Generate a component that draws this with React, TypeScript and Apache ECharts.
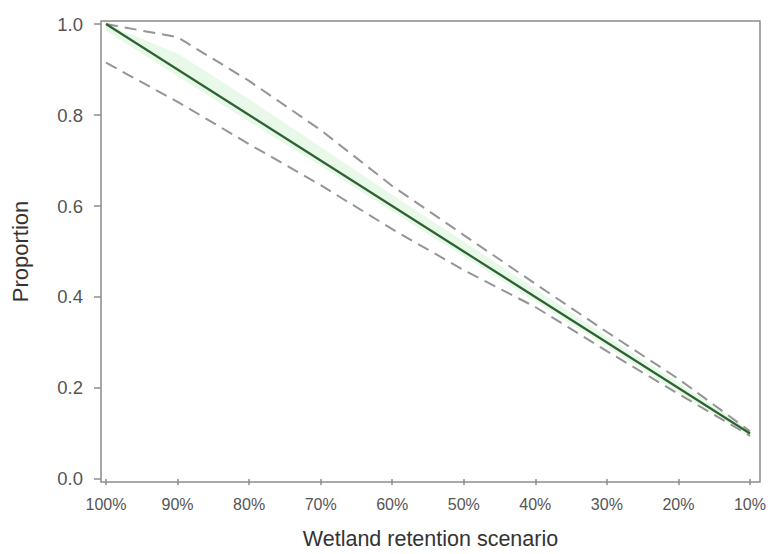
import React, { useEffect, useRef } from "react";
import * as echarts from "echarts";

const scenarios = [100, 90, 80, 70, 60, 50, 40, 30, 20, 10];
const proportion = [1.0, 0.9, 0.8, 0.7, 0.6, 0.5, 0.4, 0.3, 0.2, 0.1];
const upperBound = [1.0, 0.971, 0.875, 0.767, 0.644, 0.536, 0.429, 0.323, 0.22, 0.105];
const lowerBound = [0.915, 0.829, 0.736, 0.646, 0.549, 0.459, 0.378, 0.281, 0.187, 0.095];
const bandLow = [0.985, 0.885, 0.785, 0.688, 0.588, 0.489, 0.39, 0.29, 0.19, 0.092];
const bandHigh = [1.0, 0.935, 0.835, 0.73, 0.625, 0.522, 0.418, 0.314, 0.212, 0.108];
const xTicks = [100, 90, 80, 70, 60, 50, 40, 30, 20, 10];
const yTicks = [0, 0.2, 0.4, 0.6, 0.8, 1.0];

export default function App() {
  const ref = useRef<HTMLDivElement>(null);
  useEffect(() => {
    if (!ref.current) return;
    const chart = echarts.init(ref.current, null, { renderer: "svg" });
    const pairs = (ys: number[]) => scenarios.map((x, i) => [x, ys[i]]);
    const font = "Liberation Sans, Arial, sans-serif";
    chart.setOption({
      animation: false,
      backgroundColor: "#ffffff",
      grid: {
        left: 101,
        top: 21,
        width: 659,
        height: 461,
        show: true,
        borderColor: "#8c8c8c",
        borderWidth: 1.5,
        backgroundColor: "transparent",
        containLabel: false,
        outerBoundsMode: "none",
      },
      xAxis: {
        type: "value",
        inverse: true,
        min: 8.6,
        max: 100.7,
        name: "Wetland retention scenario",
        nameLocation: "middle",
        nameGap: 46,
        nameTextStyle: { fontFamily: font, fontSize: 21.5, color: "#333" },
        axisLine: { show: false },
        splitLine: { show: false },
        axisTick: {
          show: true,
          customValues: xTicks,
          length: 6,
          lineStyle: { color: "#8c8c8c", width: 1.5 },
        },
        axisLabel: {
          customValues: xTicks,
          formatter: (v: number) => `${Math.round(v)}%`,
          fontFamily: font,
          fontSize: 16,
          color: "#555",
          margin: 14,
        },
      },
      yAxis: {
        type: "value",
        min: -0.0066,
        max: 1.0066,
        name: "Proportion",
        nameLocation: "middle",
        nameGap: 70,
        nameTextStyle: { fontFamily: font, fontSize: 22, color: "#333" },
        axisLine: { show: false },
        splitLine: { show: false },
        axisTick: {
          show: true,
          customValues: yTicks,
          length: 7,
          lineStyle: { color: "#8c8c8c", width: 1.5 },
        },
        axisLabel: {
          customValues: yTicks,
          formatter: (v: number) => v.toFixed(1),
          fontFamily: font,
          fontSize: 18.5,
          color: "#555",
          margin: 18,
        },
      },
      series: [
        {
          type: "custom",
          silent: true,
          z: 1,
          data: scenarios.map((x, i) => [x, bandLow[i], bandHigh[i]]),
          encode: { x: 0, y: [1, 2] },
          renderItem: (params: any, api: any) => {
            if (params.dataIndex !== 0) return null;
            const top = scenarios.map((x, i) => api.coord([x, bandHigh[i]]));
            const bottom = scenarios
              .map((x, i) => api.coord([x, bandLow[i]]))
              .reverse();
            return {
              type: "polygon",
              shape: { points: top.concat(bottom) },
              style: { fill: "rgba(200, 240, 200, 0.4)" },
            };
          },
        },
        {
          type: "line",
          z: 2,
          data: pairs(upperBound),
          symbol: "none",
          lineStyle: { color: "#959595", width: 2, type: [12, 7] },
        },
        {
          type: "line",
          z: 2,
          data: pairs(lowerBound),
          symbol: "none",
          lineStyle: { color: "#959595", width: 2, type: [12, 7] },
        },
        {
          type: "line",
          z: 3,
          data: pairs(proportion),
          symbol: "none",
          lineStyle: { color: "#2d6331", width: 2.2 },
        },
      ],
    });
    return () => chart.dispose();
  }, []);
  return (
    <div
      ref={ref}
      style={{ position: "fixed", left: 0, top: 0, width: 775, height: 554 }}
    />
  );
}
